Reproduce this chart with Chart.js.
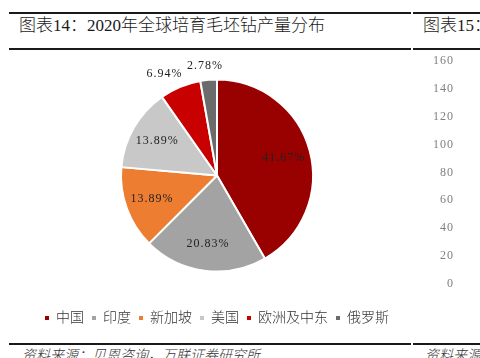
<!DOCTYPE html>
<html><head><meta charset="utf-8">
<script src="https://cdn.jsdelivr.net/npm/chart.js@4/dist/chart.umd.min.js"></script>
<style>
html,body{margin:0;padding:0;background:#fff;width:480px;height:358px;overflow:hidden;position:relative;font-family:"Liberation Serif","Noto Sans CJK SC",serif;color:#1a1a1a}
.rule{position:absolute;height:2px;background:#1a1a1a}
.t{position:absolute;white-space:nowrap;font-weight:300}
canvas{position:absolute}
</style></head><body>
<div class="rule" style="left:9px;top:12px;width:402px"></div>
<div class="rule" style="left:413px;top:12px;width:67px"></div>
<div class="rule" style="left:9px;top:48px;width:402px"></div>
<div class="rule" style="left:413px;top:48px;width:67px"></div>
<div class="t" style="left:19px;top:16px;font-size:17px;line-height:20px">图表14：2020年全球培育毛坯钻产量分布</div>
<div class="t" style="left:423px;top:16px;font-size:17px;line-height:20px">图表15：</div>
<canvas id="pie" width="434" height="290" style="left:0;top:48px;width:434px;height:290px"></canvas>
<canvas id="axis" width="80" height="260" style="left:400px;top:40px;width:80px;height:260px"></canvas>
<div class="rule" style="left:9px;top:343px;width:402px"></div>
<div class="rule" style="left:413px;top:343px;width:67px"></div>
<div class="t" style="left:22px;top:348px;font-size:14px;line-height:16px;font-style:italic;color:#333">资料来源：贝恩咨询，万联证券研究所</div>
<div class="t" style="left:425px;top:348px;font-size:14px;line-height:16px;font-style:italic;color:#333">资料来源：</div>
<script>
const categories = ['中国','印度','新加坡','美国','欧洲及中东','俄罗斯'];
const shares = [41.67, 20.83, 13.89, 13.89, 6.94, 2.78];
const sliceColors = ['#990000','#A3A3A3','#ED7D31','#C8C8C8','#C80000','#6B6B6B'];
const axisMin = 0, axisMax = 160, axisStep = 20;

const FONT = '"Liberation Serif","Noto Sans CJK SC",serif';

const pieLabels = {
  id: 'pieLabels',
  afterDatasetsDraw(chart) {
    const ctx = chart.ctx;
    const meta = chart.getDatasetMeta(0);
    const data = chart.data.datasets[0].data;
    ctx.save();
    ctx.font = '12px ' + FONT;
    ctx.letterSpacing = '1px';
    ctx.fillStyle = '#222';
    ctx.textAlign = 'center';
    ctx.textBaseline = 'middle';
    meta.data.forEach((arc, i) => {
      const p = arc.getProps(['x','y','startAngle','endAngle','outerRadius'], true);
      const mid = (p.startAngle + p.endAngle) / 2;
      const ux = Math.cos(mid), uy = Math.sin(mid);
      const txt = data[i].toFixed(2) + '%';
      const w = ctx.measureText(txt).width;
      let x, y;
      if (data[i] < 10) {
        const r = p.outerRadius * 1.15;
        x = p.x + ux * r + ux * w * 0.75;
        y = p.y + uy * r;
      } else {
        const r = p.outerRadius * 0.72;
        x = p.x + ux * r;
        y = p.y + uy * r;
      }
      ctx.fillText(txt, x, y);
    });
    ctx.restore();
  }
};

const baseGen = (Chart.overrides.pie || Chart.overrides.doughnut).plugins.legend.labels.generateLabels;

new Chart(document.getElementById('pie'), {
  type: 'pie',
  data: {
    labels: categories,
    datasets: [{
      data: shares,
      backgroundColor: sliceColors,
      borderColor: '#ffffff',
      borderWidth: 2,
      radius: 96
    }]
  },
  options: {
    responsive: false,
    animation: false,
    devicePixelRatio: 1,
    layout: { padding: { top: 0, bottom: 3, left: 0, right: 0 } },
    plugins: {
      tooltip: { enabled: false },
      legend: {
        position: 'bottom',
        labels: {
          boxWidth: 4,
          boxHeight: 4,
          padding: 8,
          color: '#333',
          font: { size: 14, family: FONT, weight: '300' },
          generateLabels: c => baseGen(c).map(l => Object.assign({}, l, { lineWidth: 0, strokeStyle: l.fillStyle }))
        }
      }
    }
  },
  plugins: [pieLabels]
});

const spacing = {
  id: 'spacing',
  beforeDraw(chart) { chart.ctx.letterSpacing = '1px'; }
};

new Chart(document.getElementById('axis'), {
  type: 'line',
  data: { labels: [], datasets: [] },
  options: {
    responsive: false,
    animation: false,
    devicePixelRatio: 1,
    layout: { padding: { top: 20.7, bottom: 16, left: 0, right: 0 } },
    plugins: { legend: { display: false }, tooltip: { enabled: false } },
    scales: {
      x: { display: false },
      y: {
        min: axisMin, max: axisMax,
        grid: { display: false, drawTicks: false },
        border: { display: false },
        ticks: { stepSize: axisStep, padding: 0, color: '#7f7f7f', font: { size: 12, family: FONT } },
        afterFit(scale) { scale.width = 54; }
      }
    }
  },
  plugins: [spacing]
});
</script>
</body></html>
